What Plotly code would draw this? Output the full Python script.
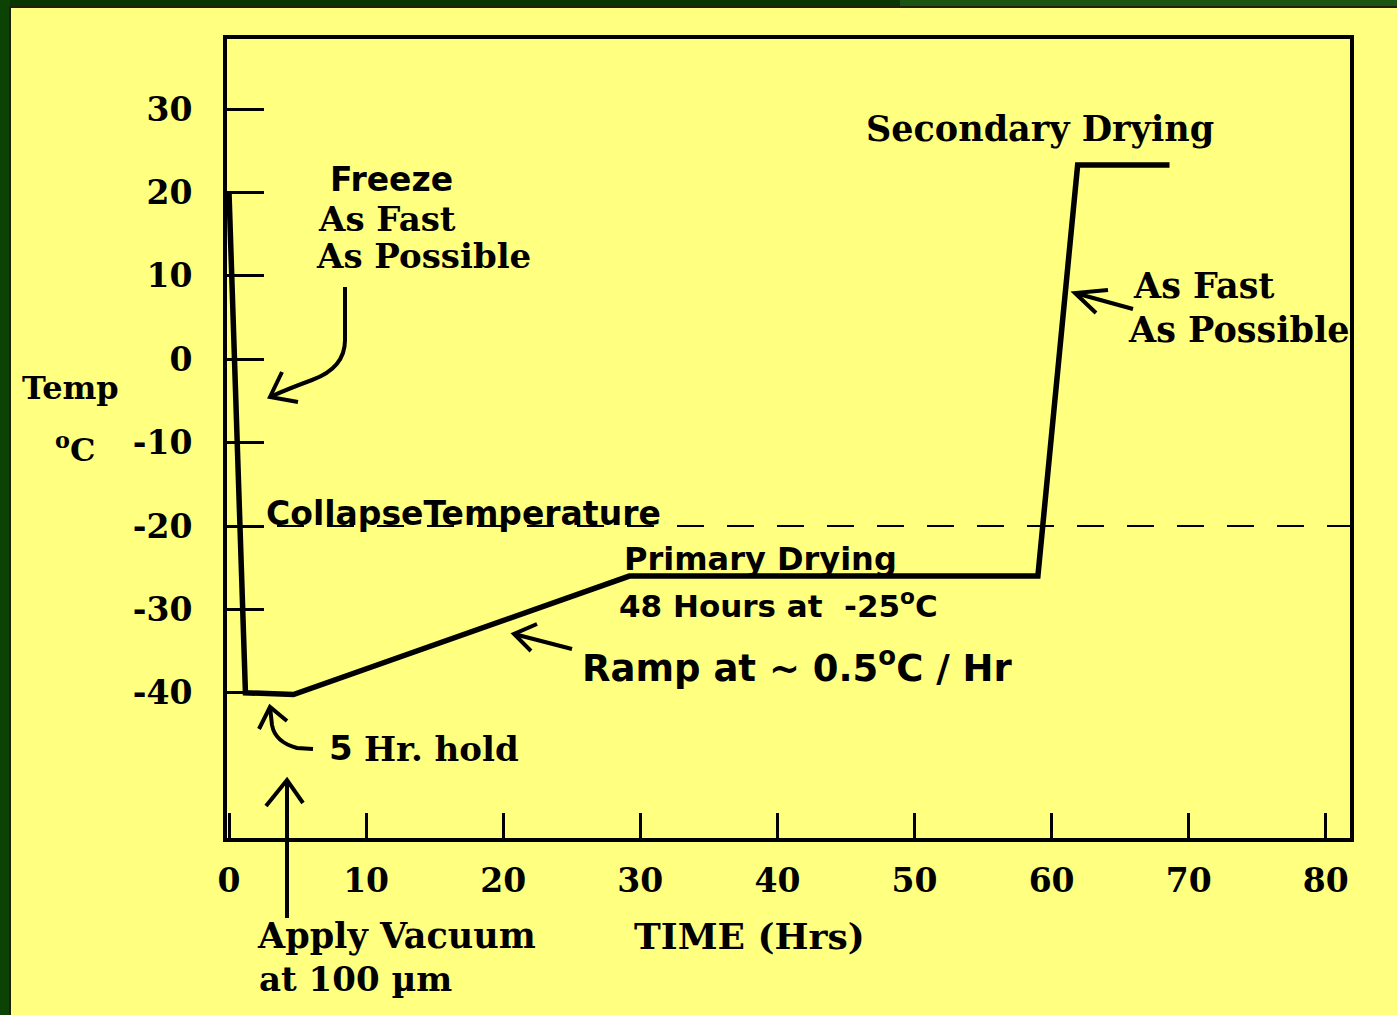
import plotly.graph_objects as go

# ---- data ----
time_hrs = [0, 1.2, 4.7, 29.2, 59.0, 61.9, 68.6]
temp_c = [20, -40, -40.2, -26, -26, 23.3, 23.3]
collapse_temp = -20

x_tickvals = [0, 10, 20, 30, 40, 50, 60, 70, 80]
x_ticktext = ["0", "10", "20", "30", "40", "50", "60", "70", "80"]
y_tickvals = [30, 20, 10, 0, -10, -20, -30, -40]
y_ticktext = ["30", "20", "10", "0", "-10", "-20", "-30", "-40"]

# ---- layout geometry (pixels) ----
W, H = 1397, 1015
L, R, T, B = 227, 1350, 39, 838
YELLOW = "#FFFF80"
SERIF = "DejaVu Serif"
SANS = "DejaVu Sans"


def px(x):
    return (x - L) / (R - L)


def py(y):
    return (B - y) / (B - T)


def path(cmds):
    out = []
    for c in cmds:
        if isinstance(c, str):
            out.append(c)
        else:
            out.append(f"{px(c[0]):.5f},{py(c[1]):.5f}")
    return " ".join(out)


def rect_path(x0, y0, x1, y1):
    return path(["M", (x0, y0), "L", (x1, y0), "L", (x1, y1), "L", (x0, y1), "Z"])


shapes = []
# green slide border
for (x0, y0, x1, y1, col) in [(0, 0, 900, 7, "#0A3602"), (900, 0, W, 7, "#1A5512"),
                              (0, 0, 10, H, "#0C4203")]:
    shapes.append(dict(type="path", xref="paper", yref="paper", path=rect_path(x0, y0, x1, y1),
                       fillcolor=col, line=dict(width=0)))
shapes.append(dict(type="line", xref="paper", yref="paper", x0=px(10), x1=px(10), y0=py(6), y1=py(H),
                   line=dict(color="#202010", width=2)))
shapes.append(dict(type="line", xref="paper", yref="paper", x0=px(9), x1=px(W), y0=py(7), y1=py(7),
                   line=dict(color="#202010", width=2)))

# collapse temperature dashed line
shapes.append(dict(type="line", xref="paper", yref="y", x0=0, x1=1,
                   y0=collapse_temp, y1=collapse_temp,
                   line=dict(color="black", width=2, dash="27px,23px")))

arrow_style = dict(color="black", width=4)
arrows = [
    # Freeze arrow
    ["M", (345, 287), "L", (345, 340), "Q", (345, 368), (312, 380), "Q", (285, 390), (270, 397)],
    ["M", (282, 372), "L", (270, 397), "L", (298, 402)],
    # 5 Hr hold arrow
    ["M", (313, 749), "L", (297, 748), "Q", (275, 742), (272, 725), "L", (270, 707)],
    ["M", (259, 729), "L", (270, 707), "L", (287, 721)],
    # Apply vacuum arrow
    ["M", (287, 918), "L", (287, 780)],
    ["M", (266, 806), "L", (287, 780), "L", (303, 803)],
    # Ramp arrow
    ["M", (572, 649), "L", (514, 634)],
    ["M", (537, 624), "L", (514, 634), "L", (531, 651)],
    # As fast (secondary) arrow
    ["M", (1133, 309), "L", (1075, 293)],
    ["M", (1108, 290), "L", (1075, 293), "L", (1096, 313)],
]
for a in arrows:
    shapes.append(dict(type="path", xref="paper", yref="paper", path=path(a), line=arrow_style))

NB = "\u00a0"
texts = [
    ("Freeze", 391, 179, SANS, 33),
    ("As Fast", 387, 219, SERIF, 34),
    ("As Possible", 423, 256, SERIF, 34),
    ("Secondary Drying", 1040, 129, SERIF, 35),
    ("As Fast", 1204, 285, SERIF, 35),
    ("As Possible", 1239, 329, SERIF, 35),
    ("CollapseTemperature", 463, 513, SANS, 33),
    ("Primary Drying", 760, 559, SANS, 32),
    ("48 Hours at" + NB + NB + "-25<sup>o</sup>C", 778, 604, SANS, 31),
    ("Ramp at ~ 0.5<sup>o</sup>C / Hr", 797, 665, SANS, 37),
    ("5", 341, 748, SANS, 34),
    ("Hr. hold", 441, 749, SERIF, 34),
    ("Apply Vacuum", 396, 935, SERIF, 35),
    ("at 100 µm", 355, 979, SERIF, 34),
    ("TIME (Hrs)", 749, 936, SERIF, 36),
    ("Temp", 70, 388, SERIF, 32),
    ("<sup>o</sup>C", 75, 448, SERIF, 32),
]
annotations = []
for txt, x, y, fam, size in texts:
    annotations.append(dict(text=txt, x=px(x), y=py(y), xref="paper", yref="paper",
                            xanchor="center", yanchor="middle", showarrow=False,
                            font=dict(family=fam, size=size, color="black", weight="bold")))

x0 = -2 / 13.71
x1 = (R - 229) / 13.71
y_top = 30 + (109 - T) / 8.34
y_bot = 30 - (B - 109) / 8.34

layout = go.Layout(
    width=W, height=H,
    margin=dict(l=L, r=W - R, t=T, b=H - B, pad=0),
    paper_bgcolor=YELLOW, plot_bgcolor=YELLOW,
    shapes=shapes, annotations=annotations,
    showlegend=False,
    xaxis=dict(range=[x0, x1], tickvals=x_tickvals, ticktext=x_ticktext,
               ticks="inside", ticklen=25, tickwidth=2.5, tickcolor="black",
               showline=True, linewidth=4, linecolor="black", mirror=True,
               showgrid=False, zeroline=False, ticklabelstandoff=10,
               tickfont=dict(family=SERIF, size=33, color="black", weight="bold")),
    yaxis=dict(range=[y_bot, y_top], tickvals=y_tickvals, ticktext=y_ticktext,
               ticks="inside", ticklen=37, tickwidth=3, tickcolor="black",
               showline=True, linewidth=4, linecolor="black", mirror=True,
               showgrid=False, zeroline=False, ticklabelstandoff=24,
               tickfont=dict(family=SERIF, size=33, color="black", weight="bold")),
)

fig = go.Figure(
    data=[go.Scatter(x=time_hrs, y=temp_c, mode="lines",
                     line=dict(color="black", width=5.5),
                     hoverinfo="skip", showlegend=False)],
    layout=layout,
)

fig.write_html("out.html", config={"displayModeBar": False},
               post_script="document.body.style.margin='0px';document.body.style.overflow='hidden';")
